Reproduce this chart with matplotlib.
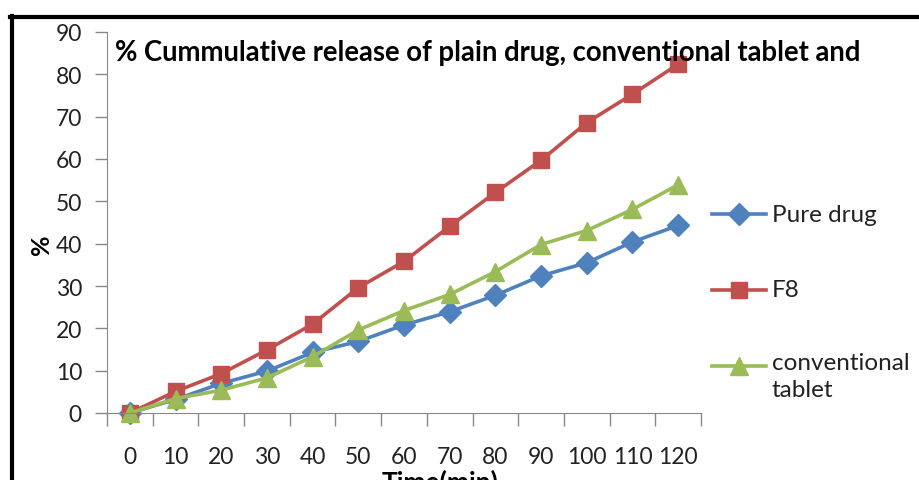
import matplotlib.pyplot as plt
from matplotlib.lines import Line2D
import numpy as np

plt.rcParams['font.family'] = ['Lato', 'DejaVu Sans']

times = [0, 10, 20, 30, 40, 50, 60, 70, 80, 90, 100, 110, 120]
pure_drug = [0, 3.2, 7.0, 9.9, 14.3, 16.9, 20.8, 23.9, 27.8, 32.4, 35.5, 40.4, 44.3]
f8 = [0, 5.1, 9.3, 14.9, 21.0, 29.6, 35.8, 44.1, 52.1, 59.7, 68.6, 75.3, 82.4]
conventional = [0, 3.4, 5.4, 8.3, 13.3, 19.6, 24.2, 28.0, 33.4, 39.8, 43.1, 48.1, 53.9]

series = [
    ("Pure drug", pure_drug, '#4F81BD', 'D', 11),
    ("F8", f8, '#C0504D', 's', 12),
    ("conventional\ntablet", conventional, '#9BBB59', '^', 13),
]

W, H = 920, 481
fig = plt.figure(figsize=(W / 100, H / 100), dpi=100)
ax = fig.add_axes([107 / W, 1 - 414 / H, (701 - 107) / W, (414 - 33) / H])

x = np.arange(len(times))
for name, vals, col, mk, ms in series:
    ax.plot(x, vals, color=col, lw=2.6, marker=mk, markersize=ms,
            markeredgecolor=col, clip_on=False)

ax.set_xlim(-0.5, len(times) - 0.5)
ax.set_ylim(0, 90)
ax.set_yticks(range(0, 91, 10))
ax.set_xticks(x)
ax.set_xticklabels([str(t) for t in times])
ax.set_xticks(np.arange(-0.5, len(times), 1), minor=True)
ax.tick_params(axis='x', which='major', length=0, pad=24, labelsize=16.5)
ax.tick_params(axis='x', which='minor', length=9, width=1, color='#888888', direction='out')
ax.tick_params(axis='y', length=9, width=1, color='#888888', pad=9, labelsize=16.5)
for t in ax.get_xticklabels() + ax.get_yticklabels():
    t.set_color('#222222')
for s in ['top', 'right']:
    ax.spines[s].set_visible(False)
ax.spines['left'].set_color('#888888')
ax.spines['bottom'].set_color('#888888')

fig.text(115 / W, 1 - 53 / H, "% Cummulative release of plain drug, conventional tablet and",
         fontsize=19.8, fontweight='bold', va='center', ha='left', color='black')
fig.text(42 / W, 1 - 245 / H, "%", fontsize=18, fontweight='bold', rotation=90,
         va='center', ha='center')
# axis title is cut by the crop in the reference too
fig.text(440 / W, 1 - 470 / H, "Time(min)", fontsize=19, fontweight='bold',
         va='top', ha='center')

# legend
leg_y = [215, 291, 367]
for (name, vals, col, mk, ms), yy in zip(series, leg_y):
    fy = 1 - yy / H
    fig.add_artist(Line2D([712 / W, 766 / W], [fy, fy], color=col, lw=2.6,
                          transform=fig.transFigure))
    fig.add_artist(Line2D([739 / W], [fy], color=col, marker=mk, markersize=ms,
                          transform=fig.transFigure))
    if '\n' in name:
        fig.text(772 / W, fy + 14 / H, name, fontsize=17.5, va='top', ha='left',
                 color='#222222', linespacing=1.35)
    else:
        fig.text(772 / W, fy, name, fontsize=17.5, va='center', ha='left',
                 color='#222222')

# black frame of the cropped chart
fig.add_artist(Line2D([11.5 / W, 11.5 / W], [0, 1 - 17 / H], color='black', lw=3,
                      transform=fig.transFigure))
fig.add_artist(Line2D([10 / W, 1], [1 - 17.5 / H, 1 - 17.5 / H], color='black', lw=3,
                      transform=fig.transFigure))

fig.savefig('out.png', dpi=100)
